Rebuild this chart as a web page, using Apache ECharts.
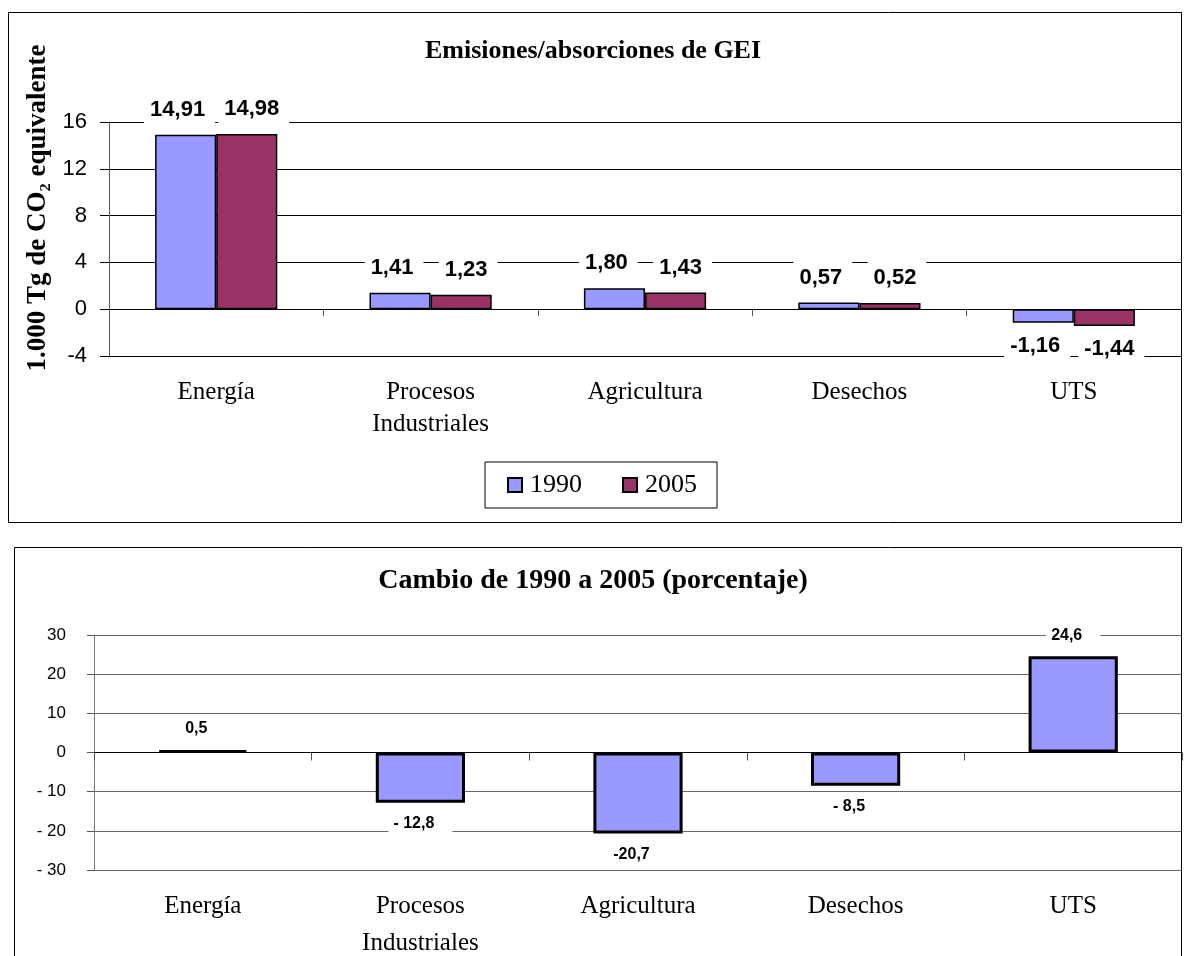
<!DOCTYPE html>
<html>
<head>
<meta charset="utf-8">
<script src="https://cdn.jsdelivr.net/npm/echarts@6/dist/echarts.min.js"></script>
<style>
html,body{margin:0;padding:0;background:#fff;}
#c{width:1186px;height:956px;}
</style>
</head>
<body>
<div id="c"></div>
<script>
// ---- data ----
const categories = ['Energía', 'Procesos\nIndustriales', 'Agricultura', 'Desechos', 'UTS'];
const seriesNames = ['1990', '2005'];
const values1990 = [14.91, 1.41, 1.80, 0.57, -1.16];
const values2005 = [14.98, 1.23, 1.43, 0.52, -1.44];
const changePct = [0.5, -12.8, -20.7, -8.5, 24.6];
const changeLabels = ['0,5', '- 12,8', '-20,7', '- 8,5', '24,6'];
const title1 = 'Emisiones/absorciones de GEI';
const title2 = 'Cambio de 1990 a 2005 (porcentaje)';
const yName1 = '1.000 Tg de CO\u2082 equivalente';

const SERIF = '"Liberation Serif", "Times New Roman", serif';
const SANS = '"Liberation Sans", Arial, sans-serif';

function fmt2(v) { return v.toFixed(2).replace('.', ','); }

function topItems(arr) {
  return arr.map(v => ({
    value: v,
    label: { position: v < 0 ? 'bottom' : 'top' }
  }));
}
function bottomItems(arr, labels) {
  return arr.map((v, i) => ({
    value: v,
    label: { position: v < 0 ? 'bottom' : 'top', formatter: labels[i] }
  }));
}

const chart = echarts.init(document.getElementById('c'), null, { renderer: 'canvas' });

const topLabel = {
  show: true,
  fontFamily: SANS,
  fontWeight: 'bold',
  fontSize: 22,
  color: '#000',
  backgroundColor: '#fff',
  padding: [6, 10, 8, 6],
  distance: 6,
  formatter: p => fmt2(p.value)
};

const option = {
  animation: false,
  backgroundColor: '#fff',
  title: [
    { text: title1, left: 'center', top: 38, padding: 0,
      textStyle: { fontFamily: SERIF, fontWeight: 'bold', fontSize: 26, color: '#000' } },
    { text: title2, left: 'center', top: 567, padding: 0,
      textStyle: { fontFamily: SERIF, fontWeight: 'bold', fontSize: 28, color: '#000' } }
  ],
  legend: {
    data: seriesNames,
    left: 485, top: 462,
    padding: [10, 20, 10, 22],
    itemGap: 40,
    itemWidth: 14, itemHeight: 14,
    icon: 'rect',
    borderColor: '#000', borderWidth: 1,
    textStyle: { fontFamily: SERIF, fontSize: 26, color: '#000', padding: [0, 0, 0, 3] }
  },
  grid: [
    { left: 109, right: 5, top: 122, height: 234, containLabel: false, outerBoundsMode: 'none' },
    { left: 94, right: 4, top: 635, height: 235, containLabel: false, outerBoundsMode: 'none' }
  ],
  xAxis: [
    {
      type: 'category', gridIndex: 0, data: categories,
      axisLine: { onZero: true, lineStyle: { color: '#000', width: 1 } },
      axisTick: { show: true, length: 7, lineStyle: { color: '#555' } },
      axisLabel: { fontFamily: SERIF, fontSize: 25, lineHeight: 32, color: '#000', margin: 20, interval: 0 },
      splitLine: { show: false }
    },
    {
      type: 'category', gridIndex: 1, data: categories,
      axisLine: { onZero: true, lineStyle: { color: '#000', width: 1 } },
      axisTick: { show: true, length: 8, lineStyle: { color: '#555' } },
      axisLabel: { fontFamily: SERIF, fontSize: 25, lineHeight: 37, color: '#000', margin: 18, interval: 0 },
      splitLine: { show: false }
    }
  ],
  yAxis: [
    {
      type: 'value', gridIndex: 0, min: -4, max: 16, interval: 4,
      axisLine: { show: true, lineStyle: { color: '#555' } },
      axisTick: { show: true, length: 9, lineStyle: { color: '#000' } },
      axisLabel: { fontFamily: SANS, fontSize: 22, color: '#000', margin: 22 },
      splitLine: { show: true, lineStyle: { color: '#000', width: 1 } }
    },
    {
      type: 'value', gridIndex: 1, min: -30, max: 30, interval: 10,
      axisLine: { show: true, lineStyle: { color: '#777' } },
      axisTick: { show: true, length: 7, lineStyle: { color: '#555' } },
      axisLabel: { fontFamily: SANS, fontSize: 17, color: '#000', margin: 28,
        formatter: v => (v < 0 ? '- ' + (-v) : String(v)) },
      splitLine: { show: true, lineStyle: { color: '#666', width: 1 } }
    }
  ],
  series: [
    {
      name: seriesNames[0], type: 'bar', xAxisIndex: 0, yAxisIndex: 0,
      data: topItems(values1990),
      barGap: '0%', barCategoryGap: '43%',
      itemStyle: { color: '#9999FF', borderColor: '#000', borderWidth: 1.5 },
      label: Object.assign({}, topLabel, { offset: [-6, 0] }),
      z: 3
    },
    {
      name: seriesNames[1], type: 'bar', xAxisIndex: 0, yAxisIndex: 0,
      data: topItems(values2005),
      barGap: '0%', barCategoryGap: '43%',
      itemStyle: { color: '#993366', borderColor: '#000', borderWidth: 1.5 },
      label: Object.assign({}, topLabel, { offset: [7, 0] }),
      z: 3
    },
    {
      name: 'Cambio', type: 'bar', xAxisIndex: 1, yAxisIndex: 1,
      data: bottomItems(changePct, changeLabels),
      barCategoryGap: '59%',
      itemStyle: { color: '#9999FF', borderColor: '#000', borderWidth: 3 },
      label: {
        show: true, fontFamily: SANS, fontWeight: 'bold', fontSize: 16, color: '#000',
        backgroundColor: '#fff', padding: [5, 18, 5, 5], distance: 8
      },
      z: 3
    }
  ],
  graphic: [
    { type: 'rect', shape: { x: 8.5, y: 12.5, width: 1173, height: 510 },
      style: { fill: 'none', stroke: '#000', lineWidth: 1 }, z: 100, silent: true },
    { type: 'rect', shape: { x: 14.5, y: 547.5, width: 1167, height: 430 },
      style: { fill: 'none', stroke: '#000', lineWidth: 1 }, z: 100, silent: true },
    { type: 'text', x: 38, y: 208, rotation: Math.PI / 2, z: 100, silent: true,
      style: { text: yName1, fontFamily: SERIF, fontWeight: 'bold', fontSize: 27, fill: '#000',
        textAlign: 'center', textVerticalAlign: 'middle', align: 'center', verticalAlign: 'middle' } }
  ]
};

chart.setOption(option);
</script>
</body>
</html>
